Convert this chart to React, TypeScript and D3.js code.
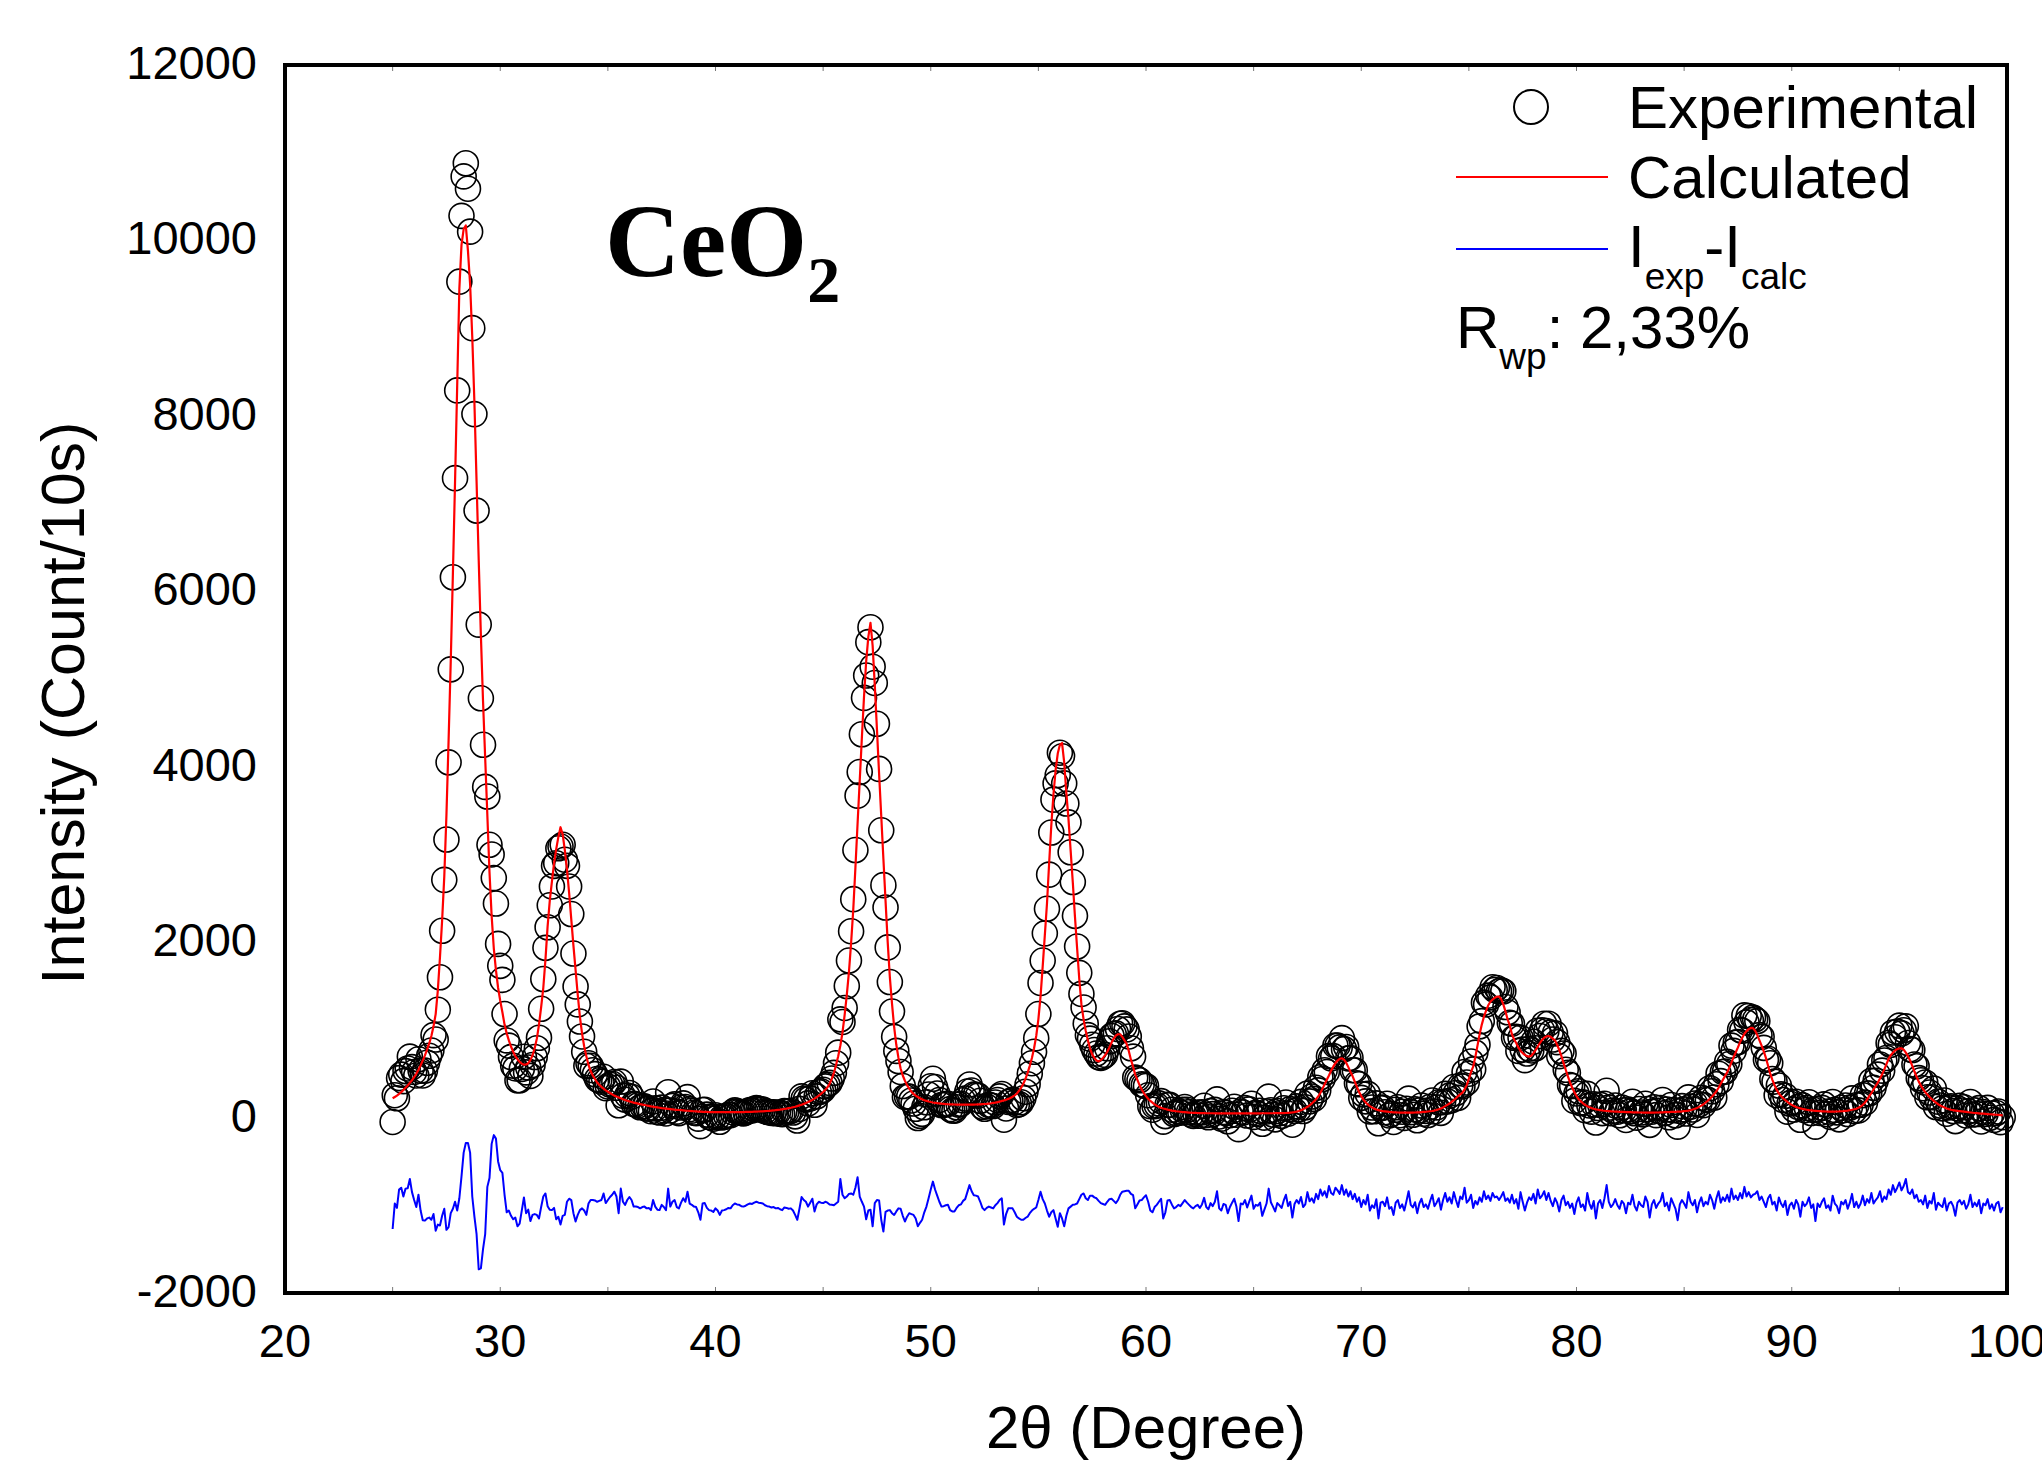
import React from 'react';
import * as d3 from 'd3';

// Scan grid: 2θ from 25.0° in steps of 0.1°
const THETA_START = 25.0;
const THETA_STEP = 0.1;

// Experimental intensities (Count/10s), one row per degree (25.x ... 99.x)
const EXPERIMENTAL = [
  -50, 255, 220, 450, 490, 415, 530, 560, 695, 575,
  520, 480, 665, 535, 480, 535, 625, 705, 765, 940,
  890, 1230, 1600, 2130, 2710, 3170, 4050, 5110, 6160, 7290,
  8290, 9530, 10280, 10730, 10880, 10590, 10100, 9000, 8020, 6920,
  5620, 4780, 4250, 3770, 3660, 3110, 3000, 2730, 2440, 1980,
  1730, 1570, 1180, 880, 820, 690, 590, 560, 425, 425,
  555, 693, 515, 570, 475, 600, 690, 790, 910, 1240,
  1580, 1935, 2170, 2420, 2635, 2870, 2900, 3070, 3090, 3110,
  2940, 2870, 2635, 2320, 1870, 1495, 1290, 1095, 925, 750,
  590, 620, 590, 540, 495, 440, 425, 410, 465, 335,
  355, 375, 385, 405, 340, 140, 410, 250, 205, 252,
  280, 238, 156, 150, 139, 118, 128, 128, 103, 103,
  73, 184, 105, 66, 57, 113, 85, 47, 289, 81,
  133, 150, 68, 51, 114, 162, 120, 233, 96, 79,
  57, 50, -12, -98, 86, 90, 34, 8, 2, -13,
  27, 2, -48, 2, 7, 17, 32, 27, 62, 82,
  72, 67, 53, 48, 59, 74, 85, 81, 97, 108,
  99, 95, 91, 73, 65, 62, 54, 61, 49, 57,
  45, 39, 73, 72, 67, 77, 58, 14, -34, 99,
  242, 216, 206, 162, 219, 277, 146, 242, 290, 300,
  317, 356, 375, 395, 445, 510, 620, 740, 1120, 1090,
  1250, 1500, 1790, 2125, 2490, 3050, 3670, 3940, 4370, 4785,
  5040, 5420, 5590, 5140, 4955, 4490, 3975, 3275, 2650, 2395,
  1940, 1545, 1210, 920, 760, 645, 520, 360, 235, 240,
  240, 195, 160, 100, -5, 20, 43, 118, 175, 263,
  357, 442, 348, 274, 201, 143, 146, 154, 157, 96,
  80, 79, 118, 148, 157, 197, 217, 297, 377, 308,
  263, 259, 250, 191, 123, 100, 127, 145, 138, 132,
  171, 201, 242, 269, -24, 104, 178, 189, 202, 173,
  145, 155, 175, 220, 295, 380, 500, 620, 750, 905,
  1180, 1535, 1790, 2100, 2380, 2770, 3250, 3625, 3810, 3905,
  4160, 4120, 3810, 3580, 3365, 3025, 2685, 2300, 1950, 1650,
  1410, 1255, 1070, 940, 900, 830, 770, 730, 690, 680,
  695, 715, 790, 870, 930, 950, 960, 1010, 1070, 1075,
  1040, 1005, 925, 790, 695, 455, 440, 425, 380, 370,
  360, 255, 130, 90, 130, 140, 162, 187, -46, 17,
  145, 145, 90, 41, 52, 74, 56, 88, 121, 89,
  62, 35, 19, 43, 57, 21, 60, 135, 29, 4,
  74, 39, 88, 208, 13, -12, 63, 53, -42, 28,
  78, 123, 33, -132, 68, 58, 108, 23, 93, 158,
  8, 53, 43, 78, -71, -1, 69, 239, 84, 34,
  -20, 75, 50, 21, 106, 172, 44, 96, -81, 78,
  128, 95, 179, 75, 118, 273, 185, 240, 213, 340,
  310, 460, 440, 540, 520, 700, 675, 700, 820, 820,
  800, 906, 780, 805, 675, 680, 540, 540, 390, 380,
  225, 265, 185, 270, 70, 115, 72, 162, -65, 108,
  113, 60, 157, 24, 42, -50, 89, 118, 27, 67,
  -4, 101, 216, 62, 32, 93, -31, 80, 137, 44,
  76, 29, 122, 195, 70, 116, 174, 54, 176, 270,
  185, 250, 198, 348, 280, 225, 365, 355, 520, 400,
  500, 640, 550, 740, 830, 1040, 1100, 1310, 1290, 1390,
  1370, 1485, 1455, 1478, 1440, 1450, 1440, 1260, 1200, 1080,
  1070, 910, 920, 760, 910, 775, 655, 730, 785, 765,
  865, 790, 990, 930, 995, 1070, 985, 1070, 970, 890,
  960, 860, 700, 760, 730, 545, 510, 370, 360, 190,
  275, 300, 165, 173, 85, 270, 138, 68, 150, -56,
  109, 145, 51, 158, 305, 113, 51, 79, 138, 67,
  26, 115, 84, -27, 92, 71, 180, 49, -1, 98,
  58, 37, 157, 97, -83, 67, 117, 28, 78, 109,
  200, 51, 92, 3, 144, 85, 26, -103, 78, 130,
  93, 46, 230, 125, 92, 160, 30, 152, 226, 142,
  212, 202, 335, 300, 228, 380, 500, 415, 520, 525,
  635, 610, 820, 760, 855, 860, 1000, 990, 1165, 1085,
  1158, 1112, 1140, 1120, 1100, 940, 920, 795, 660, 670,
  620, 440, 410, 255, 365, 265, 200, 248, 68, 160,
  175, 92, 181, 122, -25, 139, 84, 109, 175, 52,
  89, -103, 95, 53, 111, 150, 39, 68, 8, 178,
  88, 59, -20, 112, 84, 137, 40, 114, 219, 75,
  140, 82, 146, 255, 170, 275, 275, 420, 340, 420,
  490, 605, 535, 650, 680, 850, 830, 970, 915, 980,
  1048, 960, 995, 1040, 850, 780, 770, 605, 585, 450,
  425, 335, 400, 232, 285, 232, 330, 120, 182, 138,
  105, 194, 44, 116, 129, 74, -40, 106, 133, 80,
  117, 24, 71, 178, 35, 82, 40, 108, -44, 64,
  42, 110, -2, 46, -26, 52, 70, -52, 5,
];

// Calculated (refined) profile on the same grid
const CALCULATED = [
  220, 235, 250, 270, 290, 315, 340, 365, 395, 425,
  460, 500, 545, 595, 650, 710, 775, 845, 930, 1040,
  1180, 1450, 1830, 2250, 2750, 3450, 4300, 5200, 6200, 7250,
  8350, 9450, 9950, 10130, 10170, 9880, 9500, 8900, 8150, 7250,
  6350, 5500, 4750, 4100, 3450, 2800, 2300, 1930, 1680, 1480,
  1330, 1200, 1060, 960, 880, 810, 750, 700, 665, 635,
  615, 603, 605, 620, 655, 710, 790, 900, 1060, 1260,
  1480, 1800, 2180, 2470, 2690, 2900, 3060, 3200, 3310, 3230,
  3050, 2830, 2560, 2260, 1960, 1680, 1400, 1150, 960, 810,
  700, 600, 530, 480, 440, 400, 375, 350, 330, 310,
  295, 280, 265, 250, 240, 230, 220, 210, 200, 192,
  185, 178, 171, 165, 159, 153, 148, 143, 138, 133,
  128, 124, 120, 116, 112, 108, 105, 102, 99, 96,
  93, 90, 88, 86, 84, 82, 80, 78, 76, 74,
  72, 70, 68, 67, 66, 65, 64, 63, 62, 62,
  62, 62, 62, 62, 62, 62, 62, 62, 62, 62,
  62, 62, 63, 63, 64, 64, 65, 66, 67, 68,
  69, 70, 71, 73, 75, 77, 79, 81, 84, 87,
  90, 94, 98, 102, 107, 112, 118, 124, 131, 139,
  147, 156, 166, 177, 189, 202, 216, 232, 250, 270,
  292, 316, 345, 385, 440, 510, 600, 700, 820, 970,
  1170, 1400, 1660, 1990, 2370, 2850, 3350, 3840, 4330, 4800,
  5200, 5480, 5640, 5380, 4930, 4430, 3920, 3440, 2950, 2470,
  2000, 1600, 1300, 1030, 830, 680, 560, 480, 420, 370,
  330, 295, 270, 250, 235, 220, 208, 198, 190, 183,
  177, 172, 168, 164, 161, 158, 156, 154, 152, 151,
  150, 149, 148, 148, 147, 147, 147, 147, 147, 148,
  148, 149, 150, 151, 153, 155, 157, 160, 163, 167,
  171, 176, 182, 189, 196, 204, 213, 224, 237, 253,
  275, 305, 340, 385, 440, 510, 590, 680, 790, 930,
  1120, 1380, 1720, 2080, 2440, 2900, 3330, 3680, 3960, 4150,
  4250, 4270, 4050, 3700, 3400, 3040, 2680, 2290, 1930, 1580,
  1290, 1120, 990, 880, 790, 720, 680, 650, 640, 655,
  680, 710, 750, 800, 855, 900, 935, 950, 950, 920,
  880, 840, 760, 660, 580, 490, 430, 370, 320, 280,
  245, 215, 190, 170, 150, 135, 122, 112, 104, 97,
  90, 85, 80, 76, 72, 69, 66, 63, 61, 59,
  57, 55, 54, 53, 52, 51, 50, 50, 49, 49,
  49, 49, 48, 48, 48, 48, 48, 48, 48, 48,
  48, 48, 48, 48, 48, 48, 48, 48, 48, 48,
  48, 48, 48, 48, 49, 49, 49, 49, 49, 49,
  50, 50, 50, 51, 51, 52, 54, 56, 59, 63,
  68, 75, 84, 95, 108, 123, 140, 160, 183, 210,
  240, 280, 330, 380, 430, 480, 535, 580, 620, 650,
  670, 676, 660, 625, 575, 520, 470, 410, 350, 290,
  245, 205, 175, 150, 130, 115, 102, 92, 85, 78,
  73, 70, 67, 64, 62, 60, 59, 58, 57, 57,
  56, 56, 56, 57, 57, 58, 59, 60, 62, 64,
  66, 69, 72, 75, 80, 86, 94, 104, 116, 130,
  145, 160, 178, 198, 220, 245, 265, 285, 320, 370,
  440, 520, 580, 690, 820, 950, 1060, 1150, 1220, 1280,
  1320, 1345, 1365, 1378, 1380, 1350, 1290, 1210, 1120, 1050,
  950, 890, 850, 800, 760, 735, 715, 700, 695, 705,
  735, 770, 810, 850, 885, 910, 925, 930, 920, 900,
  880, 830, 770, 700, 620, 545, 470, 400, 340, 290,
  245, 210, 185, 163, 145, 130, 118, 108, 100, 94,
  89, 85, 81, 78, 75, 73, 71, 69, 68, 67,
  66, 65, 64, 63, 62, 61, 60, 59, 59, 58,
  58, 57, 57, 57, 57, 57, 57, 58, 58, 59,
  60, 61, 62, 63, 64, 65, 66, 67, 68, 70,
  73, 76, 80, 85, 92, 100, 110, 122, 136, 152,
  172, 192, 215, 240, 268, 300, 340, 385, 430, 475,
  515, 570, 630, 690, 745, 800, 860, 910, 955, 985,
  1008, 1022, 1020, 990, 940, 880, 820, 755, 680, 590,
  500, 430, 370, 315, 275, 245, 220, 198, 178, 160,
  145, 132, 121, 112, 105, 99, 94, 89, 85, 82,
  79, 77, 75, 73, 71, 70, 69, 68, 68, 68,
  68, 69, 70, 72, 74, 77, 80, 84, 89, 95,
  100, 112, 126, 145, 170, 205, 245, 280, 320, 360,
  400, 445, 495, 550, 610, 670, 710, 740, 765, 780,
  788, 790, 775, 740, 700, 650, 590, 525, 465, 410,
  365, 325, 290, 262, 235, 212, 190, 170, 152, 138,
  125, 114, 104, 96, 89, 84, 80, 76, 73, 70,
  67, 64, 61, 58, 55, 52, 50, 48, 46, 44,
  42, 40, 38, 36, 34, 32, 30, 28, 25,
];

// Residual I_exp - I_calc on the same grid (plotted shifted by DIFF_OFFSET)
const DIFFERENCE = [
  -270, 20, -30, 180, 200, 100, 190, 195, 300, 150,
  60, -20, 120, -60, -170, -175, -150, -140, -165, -100,
  -290, -220, -230, -120, -40, -280, -250, -90, -40, 40,
  -60, 80, 330, 600, 710, 710, 600, 100, -130, -330,
  -730, -720, -500, -330, 210, 310, 700, 800, 760, 500,
  400, 370, 120, -80, -60, -120, -160, -140, -240, -210,
  -60, 90, -90, -50, -180, -110, -100, -110, -150, -20,
  100, 135, -10, -50, -55, -30, -160, -130, -220, -120,
  -110, 40, 75, 60, -90, -185, -110, -55, -35, -60,
  -110, 20, 60, 60, 55, 40, 50, 60, 135, 25,
  60, 95, 120, 155, 100, -90, 190, 40, 5, 60,
  95, 60, -15, -15, -20, -35, -20, -15, -35, -30,
  -55, 60, -15, -50, -55, 5, -20, -55, 190, -15,
  40, 60, -20, -35, 30, 80, 40, 155, 20, 5,
  -15, -20, -80, -165, 20, 25, -30, -55, -60, -75,
  -35, -60, -110, -60, -55, -45, -30, -35, 0, 20,
  10, 5, -10, -15, -5, 10, 20, 15, 30, 40,
  30, 25, 20, 0, -10, -15, -25, -20, -35, -30,
  -45, -55, -25, -30, -40, -35, -60, -110, -165, -40,
  95, 60, 40, -15, 30, 75, -70, 10, 40, 30,
  25, 40, 30, 10, 5, 0, 20, 40, 300, 120,
  80, 100, 130, 135, 120, 200, 320, 100, 40, -15,
  -160, -60, -50, -240, 25, 60, 55, -165, -300, -75,
  -60, -55, -90, -110, -70, -35, -40, -120, -185, -130,
  -90, -100, -110, -150, -240, -200, -165, -80, -15, 80,
  180, 270, 180, 110, 40, -15, -10, 0, 5, -55,
  -70, -70, -30, 0, 10, 50, 70, 150, 230, 160,
  115, 110, 100, 40, -30, -55, -30, -15, -25, -35,
  0, 25, 60, 80, -220, -100, -35, -35, -35, -80,
  -130, -150, -165, -165, -145, -130, -90, -60, -40, -25,
  60, 155, 70, 20, -60, -130, -80, -55, -150, -245,
  -90, -150, -240, -120, -35, -15, 5, 10, 20, 70,
  120, 135, 80, 60, 110, 110, 90, 80, 50, 25,
  15, 5, 40, 70, 75, 50, 25, 60, 120, 155,
  160, 165, 165, 130, 115, -35, 10, 55, 60, 90,
  115, 40, -60, -80, -20, 5, 40, 75, -150, -80,
  55, 60, 10, -35, -20, 5, -10, 25, 60, 30,
  5, -20, -35, -10, 5, -30, 10, 85, -20, -45,
  25, -10, 40, 160, -35, -60, 15, 5, -90, -20,
  30, 75, -15, -180, 20, 10, 60, -25, 45, 110,
  -40, 5, -5, 30, -120, -50, 20, 190, 35, -15,
  -70, 25, 0, -30, 55, 120, -10, 40, -140, 15,
  60, 20, 95, -20, 10, 150, 45, 80, 30, 130,
  70, 180, 110, 160, 90, 220, 140, 120, 200, 170,
  130, 230, 120, 180, 100, 160, 70, 130, 40, 90,
  -20, 60, 10, 120, -60, 0, -30, 70, -150, 30,
  40, -10, 90, -40, -20, -110, 30, 60, -30, 10,
  -60, 45, 160, 5, -25, 35, -90, 20, 75, -20,
  10, -40, 50, 120, -10, 30, 80, -50, 60, 140,
  40, 90, 20, 150, 60, -20, 100, 70, 200, 30,
  60, 120, -30, 50, 10, 90, 40, 160, 70, 110,
  50, 140, 90, 100, 60, 100, 150, 50, 80, 30,
  120, 20, 70, -40, 150, 40, -60, 30, 90, 60,
  130, 20, 180, 80, 110, 160, 60, 140, 50, -10,
  80, 30, -70, 60, 110, 0, 40, -30, 20, -100,
  30, 90, -20, 10, -60, 140, 20, -40, 50, -150,
  20, 60, -30, 80, 230, 40, -20, 10, 70, 0,
  -40, 50, 20, -90, 30, 10, 120, -10, -60, 40,
  0, -20, 100, 40, -140, 10, 60, -30, 20, 50,
  140, -10, 30, -60, 80, 20, -40, -170, 10, 60,
  20, -30, 150, 40, 0, 60, -80, 30, 90, -10,
  40, 10, 120, 60, -40, 80, 160, 30, 90, 50,
  120, 40, 190, 70, 110, 60, 140, 80, 210, 100,
  150, 90, 120, 130, 160, 60, 100, 40, -20, 80,
  120, 10, 40, -60, 90, 20, -20, 50, -110, 0,
  30, -40, 60, 10, -130, 40, -10, 20, 90, -30,
  10, -180, 20, -20, 40, 80, -30, 0, -60, 110,
  20, -10, -90, 40, 10, 60, -40, 30, 130, -20,
  40, -30, 20, 110, 0, 70, 30, 140, 20, 60,
  90, 160, 40, 100, 70, 180, 120, 230, 150, 200,
  260, 170, 220, 300, 150, 130, 180, 80, 120, 40,
  60, 10, 110, -30, 50, 20, 140, -50, 30, 0,
  -20, 80, -60, 20, 40, -10, -120, 30, 60, 10,
  50, -40, 10, 120, -20, 30, -10, 60, -90, 20,
  0, 70, -40, 10, -60, 20, 40, -80, -20,
];
const DIFF_OFFSET = -1000;

const X_TICKS = [20, 30, 40, 50, 60, 70, 80, 90, 100];
const X_MINOR = [25, 35, 45, 55, 65, 75, 85, 95];
const Y_TICKS = [-2000, 0, 2000, 4000, 6000, 8000, 10000, 12000];
const Y_TICK_LABELS = ['-2000', '0', '2000', '4000', '6000', '8000', '10000', '12000'];

const SANS = "'Liberation Sans', Arial, Helvetica, sans-serif";
const SERIF = "'Liberation Serif', 'Times New Roman', serif";

export default function App() {
  const W = 2042;
  const H = 1460;
  const left = 285, right = 2007, top = 65, bottom = 1293;

  const x = d3.scaleLinear().domain([20, 100]).range([left, right]);
  const y = d3.scaleLinear().domain([-2000, 12000]).range([bottom, top]);
  const thetaAt = (i: number) => THETA_START + i * THETA_STEP;

  const calcLine = d3
    .line<number>()
    .x((_, i) => x(thetaAt(i)))
    .y((d) => y(d))(CALCULATED) as string;
  const diffLine = d3
    .line<number>()
    .x((_, i) => x(thetaAt(i)))
    .y((d) => y(d + DIFF_OFFSET))(DIFFERENCE) as string;

  return (
    <svg
      width={W}
      height={H}
      viewBox={`0 0 ${W} ${H}`}
      style={{ position: 'absolute', left: 0, top: 0, background: '#fff', display: 'block' }}
    >
      <rect x={0} y={0} width={W} height={H} fill="#fff" />

      {/* experimental points */}
      <g fill="none" stroke="#000" strokeWidth={1.6}>
        {EXPERIMENTAL.map((v, i) => (
          <circle key={i} cx={x(thetaAt(i))} cy={y(v)} r={12.5} />
        ))}
      </g>

      {/* calculated profile */}
      <path d={calcLine} fill="none" stroke="#ff0000" strokeWidth={2.2} strokeLinejoin="round" />

      {/* difference curve */}
      <path d={diffLine} fill="none" stroke="#0000ff" strokeWidth={2} strokeLinejoin="round" />

      {/* minor tick marks */}
      <g stroke="#777" strokeWidth={1}>
        {X_TICKS.concat(X_MINOR).map((t) => (
          <g key={t}>
            <line x1={x(t)} x2={x(t)} y1={bottom} y2={bottom - 6} />
            <line x1={x(t)} x2={x(t)} y1={top} y2={top + 6} />
          </g>
        ))}
      </g>

      {/* frame */}
      <rect
        x={left}
        y={top}
        width={right - left}
        height={bottom - top}
        fill="none"
        stroke="#000"
        strokeWidth={4}
      />

      {/* x tick labels */}
      <g fontFamily={SANS} fontSize={47} textAnchor="middle" fill="#000">
        {X_TICKS.map((t) => (
          <text key={t} x={x(t)} y={bottom + 64}>
            {t}
          </text>
        ))}
      </g>

      {/* y tick labels */}
      <g fontFamily={SANS} fontSize={47} textAnchor="end" fill="#000">
        {Y_TICKS.map((t, i) => (
          <text key={t} x={left - 28} y={y(t) + 14}>
            {Y_TICK_LABELS[i]}
          </text>
        ))}
      </g>

      {/* axis titles */}
      <text x={(left + right) / 2} y={1448} fontFamily={SANS} fontSize={60} textAnchor="middle">
        2θ (Degree)
      </text>
      <text
        transform="translate(84,703) rotate(-90)"
        fontFamily={SANS}
        fontSize={61}
        textAnchor="middle"
      >
        Intensity (Count/10s)
      </text>

      {/* sample label */}
      <text x={605} y={276} fontFamily={SERIF} fontWeight="bold" fontSize={104}>
        CeO
        <tspan fontSize={66} dy={26}>2</tspan>
      </text>

      {/* legend */}
      <circle cx={1531} cy={107} r={17} fill="none" stroke="#000" strokeWidth={2} />
      <text x={1628} y={128} fontFamily={SANS} fontSize={60}>Experimental</text>

      <line x1={1456} x2={1608} y1={177} y2={177} stroke="#ff0000" strokeWidth={2} />
      <text x={1628} y={198} fontFamily={SANS} fontSize={60}>Calculated</text>

      <line x1={1456} x2={1608} y1={249} y2={249} stroke="#0000ff" strokeWidth={2} />
      <text x={1628} y={267} fontFamily={SANS} fontSize={60}>
        I<tspan fontSize={37} dy={22}>exp</tspan>
        <tspan dy={-22}>-I</tspan>
        <tspan fontSize={37} dy={22}>calc</tspan>
      </text>

      <text x={1456} y={348} fontFamily={SANS} fontSize={60}>
        R<tspan fontSize={37} dy={21}>wp</tspan>
        <tspan dy={-21}>: 2,33%</tspan>
      </text>
    </svg>
  );
}
